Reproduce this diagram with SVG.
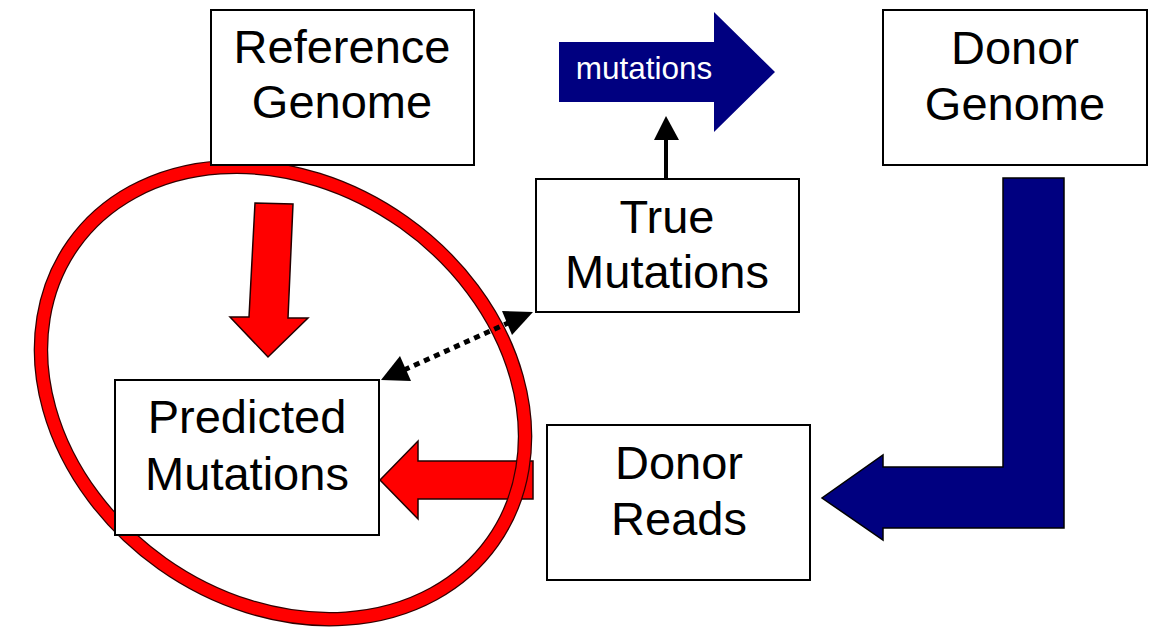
<svg xmlns="http://www.w3.org/2000/svg" width="1154" height="634" viewBox="0 0 1154 634">
  <style>
    .box { fill: #ffffff; stroke: #000000; stroke-width: 2; }
    .lbl { font-family: "Liberation Sans", Arial, sans-serif; font-size: 47px; fill: #000000; text-anchor: middle; }
    .navy { fill: #000080; stroke: #000000; stroke-width: 1.5; stroke-linejoin: miter; }
    .red { fill: #ff0000; stroke: #220000; stroke-width: 1.5; }
  </style>
  <rect x="0" y="0" width="1154" height="634" fill="#ffffff"/>

  <g id="connectors">
    <g id="mutations-arrow">
      <polygon points="559,42 714,42 714,12 775,72 714,132 714,102 559,102" fill="#000080"/>
      <text x="644" y="79" font-family="Liberation Sans, Arial, sans-serif" font-size="31.5" fill="#ffffff" text-anchor="middle">mutations</text>
    </g>
    <g id="true-to-mutations">
      <line x1="666" y1="179" x2="666" y2="136" stroke="#000000" stroke-width="4"/>
      <polygon points="666,116 654,140 679,140" fill="#000000"/>
    </g>
    <polygon id="donor-genome-to-reads" class="navy" points="1003,178 1064,178 1064,528 883,528 883,540 822,498 883,455 883,467 1003,467"/>
    <polygon id="ref-to-predicted" class="red" points="255,203 293,204 288,318 308,318 268,357 230,317 249,317"/>
    <polygon id="reads-to-predicted" class="red" points="380,480 418,441 418,461 533,461 533,499 418,499 418,519"/>
  </g>

  <g id="highlight-ellipse">
    <ellipse cx="283" cy="393" rx="257" ry="209" transform="rotate(35.3 283 393)" fill="none" stroke="#330000" stroke-width="14.5"/>
    <ellipse cx="283" cy="393" rx="257" ry="209" transform="rotate(35.3 283 393)" fill="none" stroke="#ff0000" stroke-width="12"/>
  </g>

  <g id="compare-connector">
    <line x1="404" y1="370" x2="508" y2="323" stroke="#000000" stroke-width="5" stroke-dasharray="6 5"/>
    <polygon points="381,380 400,356 411,381" fill="#000000"/>
    <polygon points="533,312 502,311 512,335" fill="#000000"/>
  </g>

  <g id="node-reference-genome">
    <rect class="box" x="211" y="10" width="263" height="155"/>
    <text class="lbl" x="342" y="63">Reference</text>
    <text class="lbl" x="342" y="118">Genome</text>
  </g>
  <g id="node-donor-genome">
    <rect class="box" x="883" y="10" width="264" height="155"/>
    <text class="lbl" x="1015" y="64">Donor</text>
    <text class="lbl" x="1015" y="120">Genome</text>
  </g>
  <g id="node-true-mutations">
    <rect class="box" x="536" y="179" width="263" height="133"/>
    <text class="lbl" x="667" y="233">True</text>
    <text class="lbl" x="667" y="288">Mutations</text>
  </g>
  <g id="node-predicted-mutations">
    <rect class="box" x="115" y="380" width="264" height="155"/>
    <text class="lbl" x="247" y="433">Predicted</text>
    <text class="lbl" x="247" y="490">Mutations</text>
  </g>
  <g id="node-donor-reads">
    <rect class="box" x="547" y="425" width="263" height="155"/>
    <text class="lbl" x="679" y="479">Donor</text>
    <text class="lbl" x="679" y="535">Reads</text>
  </g>
</svg>
